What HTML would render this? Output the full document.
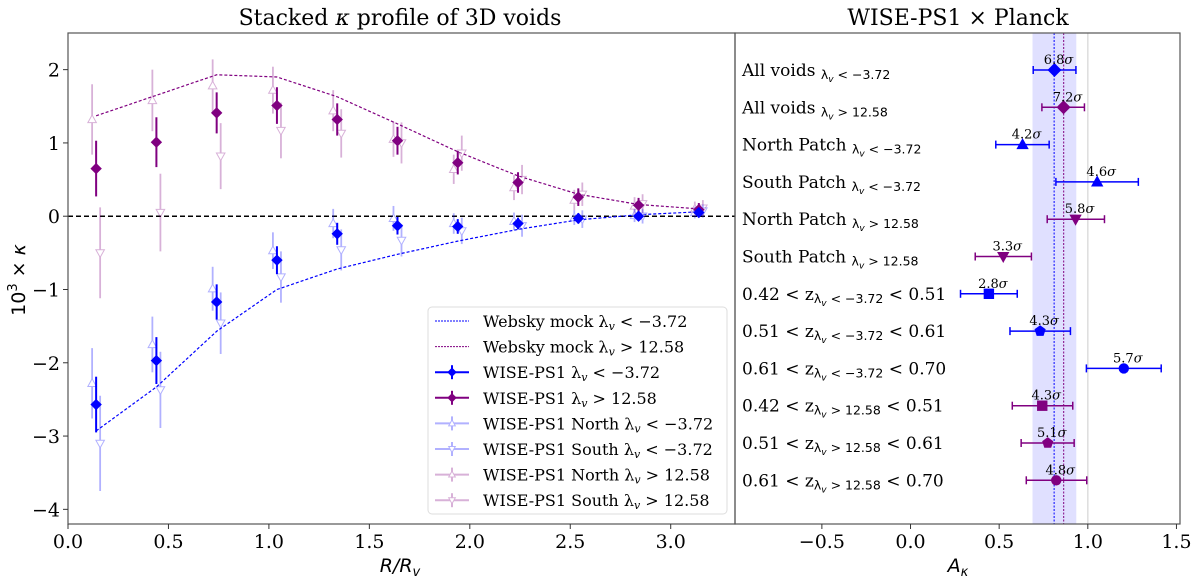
<!DOCTYPE html>
<html><head><meta charset="utf-8"><style>
body{margin:0;background:#fff;width:1200px;height:582px;overflow:hidden}
svg text{font-family:"DejaVu Serif","Liberation Serif",serif}
</style></head><body>
<svg id="c" width="1200" height="582" viewBox="0 0 1200 582" xmlns="http://www.w3.org/2000/svg"></svg>
<script>
// ---- left panel data ----
const rBins=[0.14,0.44,0.74,1.04,1.34,1.64,1.94,2.24,2.54,2.84,3.14];
const mockLow=[-2.93,-2.33,-1.57,-1.0,-0.72,-0.52,-0.34,-0.18,-0.05,0.02,0.06];
const mockHigh=[1.37,1.65,1.93,1.90,1.63,1.26,0.88,0.55,0.30,0.16,0.10];
const mainLow=[-2.57,-1.97,-1.17,-0.60,-0.24,-0.13,-0.14,-0.10,-0.03,0.00,0.05];
const mainLowErr=[0.38,0.32,0.24,0.19,0.15,0.12,0.10,0.08,0.07,0.06,0.05];
const mainHigh=[0.65,1.01,1.41,1.51,1.32,1.03,0.73,0.46,0.26,0.15,0.09];
const mainHighErr=[0.38,0.34,0.28,0.25,0.22,0.19,0.16,0.14,0.12,0.10,0.09];
const northLow=[-2.28,-1.75,-0.99,-0.47,-0.10,-0.03,-0.10,-0.07,-0.02,0.01,0.05];
const northLowErr=[0.48,0.38,0.30,0.25,0.20,0.17,0.14,0.12,0.10,0.09,0.08];
const southLow=[-3.10,-2.37,-1.46,-0.83,-0.46,-0.33,-0.20,-0.13,-0.04,0.00,0.07];
const southLowErr=[0.65,0.52,0.42,0.35,0.28,0.22,0.18,0.15,0.12,0.10,0.09];
const northHigh=[1.32,1.58,1.78,1.72,1.44,1.05,0.64,0.39,0.22,0.14,0.10];
const northHighErr=[0.48,0.42,0.36,0.32,0.28,0.24,0.20,0.17,0.14,0.12,0.10];
const southHigh=[-0.50,0.05,0.82,1.17,1.13,1.00,0.86,0.50,0.30,0.17,0.11];
const southHighErr=[0.62,0.53,0.45,0.38,0.33,0.28,0.24,0.20,0.16,0.13,0.11];
const xTicksL=[0,0.5,1.0,1.5,2.0,2.5,3.0];
const yTicksL=[-4,-3,-2,-1,0,1,2];
// ---- right panel data ----
const SUBL="λ<tspan dy='3' font-size='9' font-style='italic'>v</tspan><tspan dy='-3'> &lt; −3.72</tspan>";
const SUBH="λ<tspan dy='3' font-size='9' font-style='italic'>v</tspan><tspan dy='-3'> &gt; 12.58</tspan>";
const rowLabels=[["All voids ",SUBL,""],["All voids ",SUBH,""],["North Patch ",SUBL,""],["South Patch ",SUBL,""],["North Patch ",SUBH,""],["South Patch ",SUBH,""],["0.42 &lt; z",SUBL," &lt; 0.51"],["0.51 &lt; z",SUBL," &lt; 0.61"],["0.61 &lt; z",SUBL," &lt; 0.70"],["0.42 &lt; z",SUBH," &lt; 0.51"],["0.51 &lt; z",SUBH," &lt; 0.61"],["0.61 &lt; z",SUBH," &lt; 0.70"]];
const aVals=[0.812,0.863,0.632,1.053,0.931,0.523,0.442,0.731,1.203,0.743,0.774,0.822];
const aLo=[0.692,0.741,0.481,0.820,0.771,0.365,0.282,0.561,0.992,0.574,0.624,0.653];
const aHi=[0.933,0.981,0.782,1.285,1.094,0.682,0.602,0.902,1.414,0.915,0.923,0.994];
const sigmas=["6.8","7.2","4.2","4.6","5.8","3.3","2.8","4.3","5.7","4.3","5.1","4.8"];
const markers=["D","D","^","^","v","v","s","p","o","s","p","o"];
const rowColors=["#0000ff","#800080","#0000ff","#0000ff","#800080","#800080","#0000ff","#0000ff","#0000ff","#800080","#800080","#800080"];
const band=[0.688,0.935];
const refLow=0.81, refHigh=0.864;
const xTicksR=[-0.5,0.0,0.5,1.0,1.5];

const S=document.getElementById('c');
const NS='http://www.w3.org/2000/svg';
function el(tag,attrs,parent){const e=document.createElementNS(NS,tag);for(const k in attrs)e.setAttribute(k,attrs[k]);(parent||S).appendChild(e);return e;}
function fmt(v){return (v<0?'−':'')+Math.abs(v).toFixed(1);}
const L={x0:68,x1:735,y0:33,y1:524,xmin:0,xmax:3.32,ymin:-4.2,ymax:2.5};
const lx=v=>L.x0+(v-L.xmin)/(L.xmax-L.xmin)*(L.x1-L.x0);
const ly=v=>L.y1-(v-L.ymin)/(L.ymax-L.ymin)*(L.y1-L.y0);
const R={x0:735,x1:1180,y0:33,y1:524,xmin:-0.99,xmax:1.52};
const rx=v=>R.x0+(v-R.xmin)/(R.xmax-R.xmin)*(R.x1-R.x0);
const ry=i=>70+i*37.3;

function marker(g,type,x,y,s,fill,stroke,sw){
  let p;
  if(type==='D')p=`M${x},${y-s}L${x+s},${y}L${x},${y+s}L${x-s},${y}Z`;
  else if(type==='^')p=`M${x},${y-s}L${x+s*0.95},${y+s*0.7}L${x-s*0.95},${y+s*0.7}Z`;
  else if(type==='v')p=`M${x},${y+s}L${x+s*0.95},${y-s*0.7}L${x-s*0.95},${y-s*0.7}Z`;
  else if(type==='s')p=`M${x-s*0.8},${y-s*0.8}h${s*1.6}v${s*1.6}h${-s*1.6}Z`;
  else if(type==='p'){p='';for(let k=0;k<5;k++){const a=-Math.PI/2+k*2*Math.PI/5;p+=(k?'L':'M')+(x+s*0.9*Math.cos(a))+','+(y+s*0.9*Math.sin(a));}p+='Z';}
  else {const c=el('circle',{cx:x,cy:y,r:s*0.8,fill:fill,stroke:stroke,'stroke-width':sw},g);return c;}
  const m=el('path',{d:p,fill:fill,stroke:stroke,'stroke-width':sw},g);
  
  
  return m;
}

let t=el('text',{x:400,y:25,'font-size':22,'text-anchor':'middle'});t.innerHTML='Stacked <tspan font-style="italic">κ</tspan> profile of 3D voids';

t=el('text',{x:958,y:25,'font-size':22,'text-anchor':'middle'});t.textContent='WISE-PS1 × Planck';


const gl=el('g',{});
el('line',{x1:L.x0,x2:L.x1,y1:ly(0),y2:ly(0),stroke:'#000','stroke-width':1.5,'stroke-dasharray':'5,3'},gl);
function polyline(xs,ys,color,name){const pts=xs.map((x,i)=>lx(x)+','+ly(ys[i])).join(' ');const p=el('polyline',{points:pts,fill:'none',stroke:color,'stroke-width':1.2,'stroke-dasharray':'3,2'},gl);}
polyline(rBins,mockLow,'#0000ff','mock-low-line');
polyline(rBins,mockHigh,'#800080','mock-high-line');
function series(vals,errs,off,type,color,op,filled,name,sz){
  const g=el('g',{opacity:op},gl);
  vals.forEach((v,i)=>{const x=lx(rBins[i]+off);
    el('line',{x1:x,x2:x,y1:ly(v-errs[i]),y2:ly(v+errs[i]),stroke:color,'stroke-width':filled?2:1.8},g);
    marker(g,type,x,ly(v),sz,filled?color:'#fff',color,1);});
}
series(northHigh,northHighErr,-0.02,'^','#800080',0.3,false,'north-high-series',4.5);
series(southHigh,southHighErr,0.02,'v','#800080',0.3,false,'south-high-series',4.5);
series(northLow,northLowErr,-0.02,'^','#0000ff',0.3,false,'north-low-series',4.5);
series(southLow,southLowErr,0.02,'v','#0000ff',0.3,false,'south-low-series',4.5);
series(mainHigh,mainHighErr,0,'D','#800080',1,true,'main-high-series',5);
series(mainLow,mainLowErr,0,'D','#0000ff',1,true,'main-low-series',5);
el('rect',{x:L.x0,y:L.y0,width:L.x1-L.x0,height:L.y1-L.y0,fill:'none',stroke:'#555','stroke-width':1.2},gl);
xTicksL.forEach(v=>{const x=lx(v);el('line',{x1:x,x2:x,y1:L.y1,y2:L.y1+5,stroke:'#333'},gl);const tx=el('text',{x:x,y:L.y1+24,'font-size':19,'text-anchor':'middle'},gl);tx.textContent=v.toFixed(1);});
yTicksL.forEach(v=>{const y=ly(v);el('line',{x1:L.x0-5,x2:L.x0,y1:y,y2:y,stroke:'#333'},gl);const tx=el('text',{x:L.x0-8,y:y+7,'font-size':19,'text-anchor':'end'},gl);tx.textContent=(v<0?'−':'')+Math.abs(v);});
t=el('text',{x:0,y:0,'font-size':19,'text-anchor':'middle',transform:'translate(25,280) rotate(-90)',style:'font-family:"DejaVu Sans",sans-serif'});t.innerHTML='10<tspan dy="-8" font-size="13">3</tspan><tspan dy="8"> × </tspan><tspan font-style="italic">κ</tspan>';

t=el('text',{x:400,y:572,'font-size':19,'text-anchor':'middle','font-style':'italic',style:'font-family:"DejaVu Sans",sans-serif'});t.innerHTML='R/R<tspan dy="4" font-size="13">v</tspan>';


const lg=el('g',{});
el('rect',{x:428,y:307,width:299,height:207,rx:4,fill:'#fff',stroke:'#ddd','stroke-width':1},lg);
const LL='λ<tspan font-size="11" font-style="italic" dy="3">v</tspan><tspan dy="-3"> &lt; −3.72</tspan>';
const LH='λ<tspan font-size="11" font-style="italic" dy="3">v</tspan><tspan dy="-3"> &gt; 12.58</tspan>';
const legItems=[['Websky mock '+LL,'#0000ff','line',1],['Websky mock '+LH,'#800080','line',1],
['WISE-PS1 '+LL,'#0000ff','D',1],['WISE-PS1 '+LH,'#800080','D',1],
['WISE-PS1 North '+LL,'#0000ff','^',0.3],['WISE-PS1 South '+LL,'#0000ff','v',0.3],
['WISE-PS1 North '+LH,'#800080','^',0.3],['WISE-PS1 South '+LH,'#800080','v',0.3]];
legItems.forEach((it,i)=>{const y=321+i*25.6;const g=el('g',{},lg);
  if(it[2]==='line')el('line',{x1:435,x2:469,y1:y,y2:y,stroke:it[1],'stroke-width':1,'stroke-dasharray':'2,1'},g);
  else{const sg=el('g',{opacity:it[3]},g);el('line',{x1:435,x2:469,y1:y,y2:y,stroke:it[1],'stroke-width':2},sg);el('line',{x1:452,x2:452,y1:y-7,y2:y+7,stroke:it[1],'stroke-width':2},sg);marker(sg,it[2],452,y,it[2]==='D'?4:3.5,it[3]<1?'#fff':it[1],it[1],1);}
  const tx=el('text',{x:483,y:y+6,'font-size':16},g);tx.innerHTML=it[0];});

const gr=el('g',{});
el('rect',{x:rx(band[0]),y:R.y0,width:rx(band[1])-rx(band[0]),height:R.y1-R.y0,fill:'#0000ff','fill-opacity':0.12},gr);
el('line',{x1:rx(1),x2:rx(1),y1:R.y0,y2:R.y1,stroke:'#ddd','stroke-width':1.5},gr);
el('line',{x1:rx(refLow),x2:rx(refLow),y1:R.y0,y2:R.y1,stroke:'#0000ff','stroke-width':1,'stroke-dasharray':'2,1.5'},gr);
el('line',{x1:rx(refHigh),x2:rx(refHigh),y1:R.y0,y2:R.y1,stroke:'#800080','stroke-width':1,'stroke-dasharray':'2,1.5'},gr);
aVals.forEach((v,i)=>{const y=ry(i),c=rowColors[i];const g=el('g',{},gr);
  el('line',{x1:rx(aLo[i]),x2:rx(aHi[i]),y1:y,y2:y,stroke:c,'stroke-width':1.5},g);
  [aLo[i],aHi[i]].forEach(e=>el('line',{x1:rx(e),x2:rx(e),y1:y-4,y2:y+4,stroke:c,'stroke-width':1.5},g));
  marker(g,markers[i],rx(v),y,markers[i]==='D'?7:6.5,c,c,0);
  const s=el('text',{x:rx(v)+4,y:y-6,'font-size':13,'text-anchor':'middle'},g);s.innerHTML=sigmas[i]+'<tspan font-style="italic">σ</tspan>';
  const lb=el('text',{x:742,y:y+6,'font-size':17},g);
  const lab=rowLabels[i];
  lb.innerHTML=lab[0]+'<tspan font-size="12.5" dy="3" style="font-family:DejaVu Sans,sans-serif">'+lab[1]+'</tspan>'+(lab[2]?'<tspan dy="-3">'+lab[2]+'</tspan>':'');
});
el('rect',{x:R.x0,y:R.y0,width:R.x1-R.x0,height:R.y1-R.y0,fill:'none',stroke:'#555','stroke-width':1.2},gr);
xTicksR.forEach(v=>{const x=rx(v);el('line',{x1:x,x2:x,y1:R.y1,y2:R.y1+5,stroke:'#333'},gr);const tx=el('text',{x:x,y:R.y1+24,'font-size':19,'text-anchor':'middle'},gr);tx.textContent=fmt(v);});
t=el('text',{x:958,y:572,'font-size':19,'text-anchor':'middle','font-style':'italic',style:'font-family:"DejaVu Sans",sans-serif'});t.innerHTML='A<tspan dy="4" font-size="13">κ</tspan>';

</script>
</body></html>
